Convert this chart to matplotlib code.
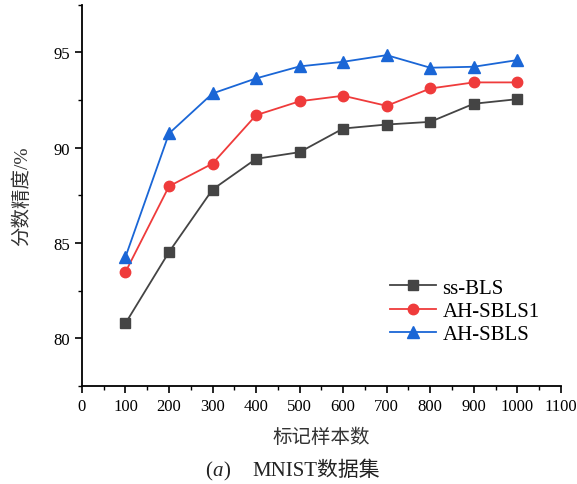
import matplotlib
matplotlib.use('Agg')
import matplotlib.pyplot as plt
from matplotlib.ticker import MultipleLocator

plt.rcParams['font.family'] = ['Liberation Serif', 'Noto Sans CJK SC']

# 数据
samples = [100, 200, 300, 400, 500, 600, 700, 800, 900, 1000]
ss_bls = [80.79, 84.53, 87.81, 89.42, 89.77, 91.01, 91.22, 91.36, 92.31, 92.55]
ah_sbls1 = [83.48, 87.98, 89.17, 91.71, 92.44, 92.73, 92.20, 93.11, 93.43, 93.43]
ah_sbls = [84.27, 90.75, 92.85, 93.64, 94.27, 94.51, 94.86, 94.20, 94.25, 94.60]
labels = ['ss-BLS', 'AH-SBLS1', 'AH-SBLS']

fig = plt.figure(figsize=(5.77, 4.85), dpi=100)
ax = fig.add_axes([0.142, 0.202, 0.830, 0.786])

ax.plot(samples, ss_bls, color='#444444', marker='s', markersize=7, lw=1.3, label=labels[0])
ax.plot(samples, ah_sbls1, color='#ef3b3b', marker='o', markersize=7.5, lw=1.3, label=labels[1])
ax.plot(samples, ah_sbls, color='#1a66d6', marker='^', markersize=8, lw=1.3, label=labels[2])

ax.set_xlim(0, 1100)
ax.set_ylim(77.5, 97.5)
ax.xaxis.set_major_locator(MultipleLocator(100))
ax.xaxis.set_minor_locator(MultipleLocator(50))
ax.yaxis.set_major_locator(MultipleLocator(5))
ax.yaxis.set_minor_locator(MultipleLocator(2.5))
ax.tick_params(which='major', direction='out', length=5, width=1.2, labelsize=12)
ax.tick_params(which='minor', direction='out', length=3, width=1.0)
for s in ['top', 'right']:
    ax.spines[s].set_visible(False)
for s in ['left', 'bottom']:
    ax.spines[s].set_linewidth(1.3)

ax.set_xlabel('标记样本数', fontsize=14, color='#333333', labelpad=10)
ax.set_ylabel('分数精度/%', fontsize=14, color='#333333', labelpad=16)

ax.legend(loc='lower right', bbox_to_anchor=(0.995, 0.06), frameon=False, fontsize=15,
          handlelength=2.2, handletextpad=0.3, labelspacing=0.18)

# 图注
fig.text(0.355, 0.018, '(', fontsize=15, color='#222222')
fig.text(0.368, 0.018, 'a', fontsize=15, color='#222222', style='italic')
fig.text(0.387, 0.018, ')', fontsize=15, color='#222222')
fig.text(0.437, 0.018, 'MNIST数据集', fontsize=15, color='#222222')

fig.savefig('out.png', dpi=100)
